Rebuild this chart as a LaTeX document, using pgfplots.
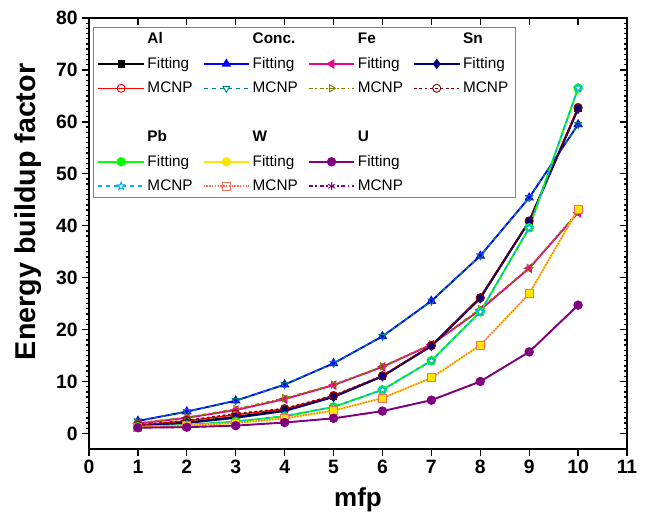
\documentclass[border=0pt]{standalone}
\usepackage{fontspec}
\setmainfont{Liberation Sans}
\usepackage{pgfplots}
\pgfplotsset{compat=1.18}

\definecolor{cteal}{RGB}{0,128,128}
\definecolor{colive}{RGB}{128,128,0}
\definecolor{cnavy}{RGB}{0,0,128}
\definecolor{cdred}{RGB}{128,0,0}
\definecolor{cgreen}{RGB}{0,255,0}
\definecolor{cyel}{RGB}{255,230,0}
\definecolor{csalm}{RGB}{250,110,90}
\definecolor{cpurp}{RGB}{128,0,128}

% open five-pointed star
\pgfdeclareplotmark{ostar}{%
  \pgfpathmoveto{\pgfpointpolar{90}{\pgfplotmarksize}}%
  \pgfpathlineto{\pgfpointpolar{126}{0.42\pgfplotmarksize}}%
  \pgfpathlineto{\pgfpointpolar{162}{\pgfplotmarksize}}%
  \pgfpathlineto{\pgfpointpolar{198}{0.42\pgfplotmarksize}}%
  \pgfpathlineto{\pgfpointpolar{234}{\pgfplotmarksize}}%
  \pgfpathlineto{\pgfpointpolar{270}{0.42\pgfplotmarksize}}%
  \pgfpathlineto{\pgfpointpolar{306}{\pgfplotmarksize}}%
  \pgfpathlineto{\pgfpointpolar{342}{0.42\pgfplotmarksize}}%
  \pgfpathlineto{\pgfpointpolar{18}{\pgfplotmarksize}}%
  \pgfpathlineto{\pgfpointpolar{54}{0.42\pgfplotmarksize}}%
  \pgfpathclose\pgfusepathqfillstroke}

\pgfplotsset{
  fitS/.style={line width=1.4pt, mark size=2.8pt, solid},
  mcS/.style={line width=1.1pt, mark size=3pt},
  omk/.style={mark options={solid, fill=white, line width=0.7pt, #1}},
}

\begin{document}
\begin{tikzpicture}
\begin{axis}[
  name=main,
  scale only axis, width=403.5pt, height=323.25pt,
  xmin=0, xmax=11, ymin=-3, ymax=80,
  xtick={0,1,...,11}, ytick={0,10,...,80}, minor y tick num=9,
  tick align=outside, xtick pos=left, ytick pos=left,
  axis line style={line width=1.2pt}, tick style={line width=1pt, black},
  major tick length=5pt, minor tick length=2.6pt,
  xlabel={mfp}, ylabel={Energy buildup factor},
  xlabel style={font=\bfseries\fontsize{19.5}{22}\selectfont, yshift=-3pt},
  ylabel style={font=\bfseries\fontsize{21.5}{24}\selectfont, yshift=4pt,
    at={(ticklabel cs:0.55)}},
  ticklabel style={font=\bfseries\fontsize{14.5}{16}\selectfont},
  /pgf/number format/assume math mode=true,
  legend columns=4, legend cell align=left,
  legend image code/.code={\draw[mark repeat=2, mark phase=2, #1, draw=.]
    plot coordinates {(0cm,0cm) (0.6cm,0cm) (1.2cm,0cm)};},
  legend style={at={(0.0075,0.979)}, anchor=north west, draw=gray,
    line width=0.6pt, fill=white, font=\fontsize{11.5}{13}\selectfont,
    row sep=4.6pt, /tikz/every even column/.append style={column sep=5.5pt}},
]
% legend
\addlegendimage{empty legend}\addlegendentry{\textbf{Al}}
\addlegendimage{empty legend}\addlegendentry{\textbf{Conc.}}
\addlegendimage{empty legend}\addlegendentry{\textbf{Fe}}
\addlegendimage{empty legend}\addlegendentry{\textbf{Sn}}
\addlegendimage{fitS, black, mark=square*, mark size=2pt}\addlegendentry{Fitting}
\addlegendimage{fitS, blue, mark=triangle*}\addlegendentry{Fitting}
\addlegendimage{fitS, magenta, mark=triangle*, mark options={rotate=90}}\addlegendentry{Fitting}
\addlegendimage{fitS, cnavy, mark=diamond*}\addlegendentry{Fitting}
\addlegendimage{mcS, red, mark=o, omk}\addlegendentry{MCNP}
\addlegendimage{mcS, cteal, dashed, mark=triangle, omk={rotate=180}}\addlegendentry{MCNP}
\addlegendimage{mcS, colive, dash dot, mark=triangle, omk={rotate=-90}}\addlegendentry{MCNP}
\addlegendimage{mcS, cdred, dash pattern=on 2pt off 2pt, mark=o, omk}\addlegendentry{MCNP}
\addlegendimage{empty legend}\addlegendentry{\phantom{Fitting}}
\addlegendimage{empty legend}\addlegendentry{\phantom{Fitting}}
\addlegendimage{empty legend}\addlegendentry{\phantom{Fitting}}
\addlegendimage{empty legend}\addlegendentry{\phantom{Fitting}}
\addlegendimage{empty legend}\addlegendentry{\textbf{Pb}}
\addlegendimage{empty legend}\addlegendentry{\textbf{W}}
\addlegendimage{empty legend}\addlegendentry{\textbf{U}}
\addlegendimage{empty legend}\addlegendentry{}
\addlegendimage{fitS, cgreen, mark=*}\addlegendentry{Fitting}
\addlegendimage{fitS, cyel, mark=*}\addlegendentry{Fitting}
\addlegendimage{fitS, cpurp, mark=*}\addlegendentry{Fitting}
\addlegendimage{empty legend}\addlegendentry{}
\addlegendimage{mcS, cyan, dashed, mark=ostar, omk}\addlegendentry{MCNP}
\addlegendimage{mcS, csalm, densely dotted, mark=square, omk}\addlegendentry{MCNP}
\addlegendimage{mcS, cpurp, dash dot, mark=asterisk, omk}\addlegendentry{MCNP}
\addlegendimage{empty legend}\addlegendentry{}

% Al
\addplot[fitS, black, mark=square*, mark size=2pt, forget plot] coordinates {(1,1.5)(2,2.1)(3,3.2)(4,4.5)(5,7.1)(6,11.0)(7,16.9)(8,26.2)(9,40.9)(10,62.6)};
\addplot[mcS, red, mark=o, omk, forget plot] coordinates {(1,1.6)(2,2.4)(3,3.6)(4,4.7)(5,7.2)(6,11.1)(7,16.9)(8,26.1)(9,40.9)(10,62.8)};
% Conc.
\addplot[fitS, blue, mark=triangle*, forget plot] coordinates {(1,2.4)(2,4.2)(3,6.3)(4,9.4)(5,13.5)(6,18.7)(7,25.5)(8,34.2)(9,45.4)(10,59.5)};
\addplot[mcS, cteal, dashed, mark=triangle, omk={rotate=180}, forget plot] coordinates {(1,2.4)(2,4.2)(3,6.3)(4,9.4)(5,13.5)(6,18.7)(7,25.5)(8,34.2)(9,45.4)(10,59.5)};
% Fe
\addplot[fitS, magenta, mark=triangle*, mark options={rotate=90}, forget plot] coordinates {(1,1.9)(2,3.0)(3,4.5)(4,6.6)(5,9.3)(6,12.8)(7,17.1)(8,23.8)(9,31.8)(10,42.5)};
\addplot[mcS, colive, dash dot, mark=triangle, omk={rotate=-90}, forget plot] coordinates {(1,2.0)(2,3.1)(3,4.7)(4,6.8)(5,9.4)(6,12.9)(7,17.2)(8,24.0)(9,31.9)(10,42.7)};
% Sn
\addplot[fitS, cnavy, mark=diamond*, forget plot] coordinates {(1,1.4)(2,2.0)(3,3.0)(4,4.3)(5,7.0)(6,11.0)(7,16.8)(8,26.0)(9,40.8)(10,62.5)};
\addplot[mcS, cdred, dash pattern=on 2pt off 2pt, mark=o, omk, forget plot] coordinates {(1,1.6)(2,2.5)(3,3.8)(4,4.8)(5,7.3)(6,11.1)(7,16.9)(8,26.1)(9,40.9)(10,62.7)};
% Pb
\addplot[fitS, cgreen, mark=*, forget plot] coordinates {(1,1.3)(2,1.6)(3,2.3)(4,3.3)(5,5.1)(6,8.4)(7,14.0)(8,23.4)(9,39.6)(10,66.5)};
\addplot[mcS, cyan, dashed, mark=ostar, omk, forget plot] coordinates {(1,1.3)(2,1.6)(3,2.3)(4,3.3)(5,5.1)(6,8.4)(7,14.0)(8,23.4)(9,39.6)(10,66.5)};
% W
\addplot[fitS, cyel, mark=*, forget plot] coordinates {(1,1.2)(2,1.5)(3,2.0)(4,2.9)(5,4.4)(6,6.8)(7,10.7)(8,17.0)(9,26.9)(10,43.2)};
\addplot[mcS, csalm, densely dotted, mark=square, omk, forget plot] coordinates {(1,1.2)(2,1.5)(3,2.0)(4,2.9)(5,4.4)(6,6.8)(7,10.7)(8,17.0)(9,26.9)(10,43.2)};
% U
\addplot[fitS, cpurp, mark=*, forget plot] coordinates {(1,1.1)(2,1.2)(3,1.5)(4,2.1)(5,2.9)(6,4.3)(7,6.4)(8,10.0)(9,15.7)(10,24.7)};
\addplot[mcS, cpurp, dash dot, mark=asterisk, omk, forget plot] coordinates {(1,1.1)(2,1.2)(3,1.5)(4,2.1)(5,2.9)(6,4.3)(7,6.4)(8,10.0)(9,15.7)(10,24.7)};
\end{axis}
% mirrored ticks on top and right
\begin{axis}[
  scale only axis, width=403.5pt, height=323.25pt,
  xmin=0, xmax=11, ymin=-3, ymax=80,
  xtick={0,1,...,11}, ytick={0,10,...,80}, minor y tick num=9,
  tick align=inside, xtick pos=right, ytick pos=right,
  xticklabels={}, yticklabels={},
  axis line style={line width=1.2pt}, tick style={line width=1pt, black},
  major tick length=5pt, minor tick length=2.6pt,
]
\end{axis}
\pgfresetboundingbox
\path[use as bounding box] ([xshift=-66.75pt, yshift=-54.75pt]main.south west)
  rectangle ([xshift=16.5pt, yshift=13.5pt]main.north east);
\end{tikzpicture}
\end{document}
